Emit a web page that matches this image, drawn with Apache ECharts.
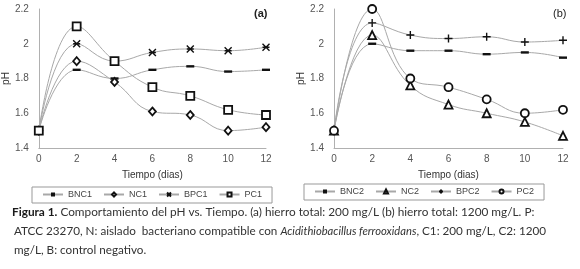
<!DOCTYPE html>
<html>
<head>
<meta charset="utf-8">
<script src="https://cdn.jsdelivr.net/npm/echarts@6/dist/echarts.min.js"></script>
<style>
html,body{margin:0;padding:0;background:#fff;}
#c{width:580px;height:269px;}
</style>
</head>
<body>
<div id="c"></div>
<script>
// ---- data ----
var days = [0, 2, 4, 6, 8, 10, 12];
var yTicks = [1.4, 1.6, 1.8, 2.0, 2.2];

var BNC1 = [1.5, 1.85, 1.8, 1.85, 1.87, 1.84, 1.85];
var NC1  = [1.5, 1.9, 1.78, 1.61, 1.59, 1.5, 1.52];
var BPC1 = [1.5, 2.0, 1.9, 1.95, 1.97, 1.96, 1.98];
var PC1  = [1.5, 2.1, 1.9, 1.75, 1.7, 1.62, 1.59];

var BNC2 = [1.5, 2.0, 1.96, 1.96, 1.94, 1.95, 1.92];
var NC2  = [1.5, 2.05, 1.76, 1.65, 1.6, 1.55, 1.47];
var BPC2 = [1.5, 2.12, 2.05, 2.03, 2.04, 2.01, 2.02];
var PC2  = [1.5, 2.2, 1.8, 1.75, 1.68, 1.6, 1.62];

var namesA = ['BNC1', 'NC1', 'BPC1', 'PC1'];
var namesB = ['BNC2', 'NC2', 'BPC2', 'PC2'];
var xTitle = 'Tiempo (dias)';
var yTitle = 'pH';

// ---- build ----
function pairs(arr){ return days.map(function(d,i){ return [d, arr[i]]; }); }

var SYM = {
  dash:   {symbol:'path://M0,0L10,0L10,3L0,3Z', size:8, fill:'#111', bw:0},
  diamond:{symbol:'diamond', size:[7,8], fill:'#fff', bw:1.8},
  star:   {symbol:'path://M0,0L10,10M10,0L0,10M0,5L10,5', size:7, fill:'none', bw:1.4},
  square: {symbol:'rect', size:8, fill:'#fff', bw:1.8},
  tri:    {symbol:'triangle', size:8, fill:'#fff', bw:1.8},
  plus:   {symbol:'path://M5,0L5,10M0,5L10,5', size:8, fill:'none', bw:1.4},
  circle: {symbol:'circle', size:8, fill:'#fff', bw:1.8}
};

function mk(name, arr, sym, idx){
  var s = SYM[sym];
  return {
    name: name, type: 'line', data: pairs(arr),
    xAxisIndex: idx, yAxisIndex: idx,
    smooth: 0.45,
    symbol: s.symbol, symbolSize: s.size, symbolKeepAspect: true,
    lineStyle: {color:'#a8a8a8', width:1},
    itemStyle: {color: s.fill, borderColor:'#111', borderWidth: s.bw},
    emphasis: {disabled:true},
    animation: false
  };
}

var font = 'Liberation Sans, Arial, sans-serif';
function xAx(idx){
  return {
    gridIndex: idx, type:'value', min:0, max:12, interval:2,
    name: xTitle, nameLocation:'middle', nameGap:22,
    nameTextStyle:{fontFamily:font, fontSize:10, color:'#333'},
    axisLine:{lineStyle:{color:'#b0b0b0'}},
    axisTick:{show:false}, splitLine:{show:false},
    axisLabel:{fontFamily:font, fontSize:10, color:'#555', margin:6}
  };
}
function yAx(idx){
  return {
    gridIndex: idx, type:'value', min:yTicks[0], max:yTicks[yTicks.length-1], interval:0.2,
    name: yTitle, nameLocation:'middle', nameGap:22,
    nameTextStyle:{fontFamily:font, fontSize:10, color:'#333'},
    axisLine:{show:true, lineStyle:{color:'#b0b0b0'}},
    axisTick:{show:false}, splitLine:{show:false},
    axisLabel:{fontFamily:font, fontSize:10, color:'#555', margin:10,
      formatter:function(v){ return String(Math.round(v*10)/10); }}
  };
}

function legend(names, left, top){
  return {
    data: names, left:left, top:top, orient:'horizontal',
    itemWidth:20, itemHeight:5, itemGap:11,
    symbolKeepAspect:true,
    padding:[3,10,4,10], borderWidth:1, borderColor:'#999',
    textStyle:{fontFamily:font, fontSize:9, color:'#444'},
    selectedMode:false
  };
}

var option = {
  backgroundColor:'#fff',
  animation:false,
  grid:[
    {left:36, top:9, width:230, height:139},
    {left:334, top:9, width:229, height:139}
  ],
  xAxis:[xAx(0), xAx(1)],
  yAxis:[yAx(0), yAx(1)],
  legend:[legend(namesA, 32, 187), legend(namesB, 304, 184)],
  series:[
    mk(namesA[0], BNC1, 'dash', 0),
    mk(namesA[1], NC1, 'diamond', 0),
    mk(namesA[2], BPC1, 'star', 0),
    mk(namesA[3], PC1, 'square', 0),
    mk(namesB[0], BNC2, 'dash', 1),
    mk(namesB[1], NC2, 'tri', 1),
    mk(namesB[2], BPC2, 'plus', 1),
    mk(namesB[3], PC2, 'circle', 1)
  ],
  graphic:[
    {type:'text', left:254, top:8, style:{text:'(a)', font:'bold 11px Liberation Sans, Arial, sans-serif', fill:'#222'}},
    {type:'text', left:553, top:8, style:{text:'(b)', font:'11px Liberation Sans, Arial, sans-serif', fill:'#222'}},
    {type:'text', left:12, top:206, style:{
      text:'{b|Figura 1.} Comportamiento del pH vs. Tiempo. (a) hierro total: 200 mg/L (b) hierro total: 1200 mg/L. P:',
      font:'11.8px Lato, sans-serif', fill:'#333',
      rich:{b:{font:'bold 11.8px Lato, sans-serif', fill:'#1a1a1a'}}
    }},
    {type:'text', left:14, top:225, style:{
      text:'ATCC 23270, N: aislado  bacteriano compatible con {i|Acidithiobacillus ferrooxidans}, C1: 200 mg/L, C2: 1200',
      font:'11.7px Lato, sans-serif', fill:'#333',
      rich:{i:{font:'italic 11.2px Lato, sans-serif', fill:'#333'}}
    }},
    {type:'text', left:14, top:244, style:{
      text:'mg/L, B: control negativo.',
      font:'11.7px Lato, sans-serif', fill:'#333'
    }}
  ]
};

var chart = echarts.init(document.getElementById('c'), null, {renderer:'canvas'});
chart.setOption(option);
</script>
</body>
</html>
